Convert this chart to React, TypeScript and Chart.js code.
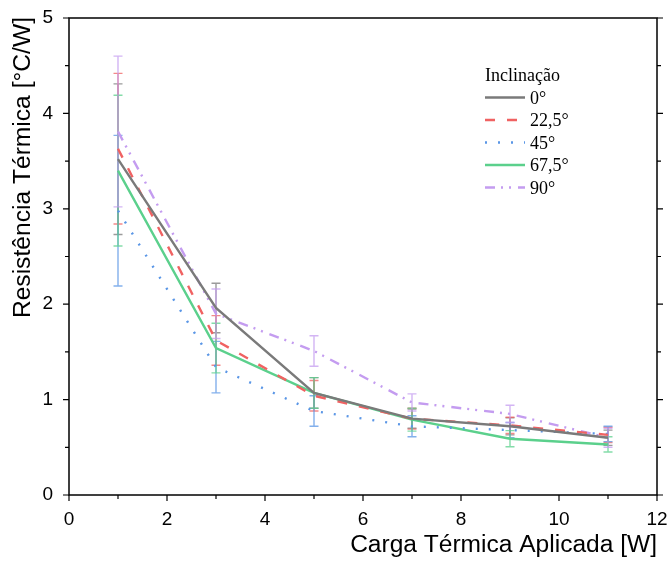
import React, { useEffect, useRef } from "react";
import { Chart, registerables } from "chart.js";

Chart.register(...registerables);

const loads = [1, 3, 5, 7, 9, 11];
const seriesLabels = ["0°", "22,5°", "45°", "67,5°", "90°"];
const res0 = [3.52, 1.96, 1.07, 0.8, 0.72, 0.6];
const res225 = [3.63, 1.62, 1.04, 0.8, 0.73, 0.63];
const res45 = [2.98, 1.34, 0.88, 0.72, 0.68, 0.64];
const res675 = [3.4, 1.54, 1.07, 0.79, 0.59, 0.53];
const res90 = [3.81, 1.9, 1.51, 0.97, 0.85, 0.6];
const err0 = [0.79, 0.26, 0.16, 0.1, 0.09, 0.08];
const err225 = [0.79, 0.26, 0.16, 0.11, 0.085, 0.08];
const err45 = [0.79, 0.27, 0.16, 0.11, 0.08, 0.08];
const err675 = [0.79, 0.26, 0.16, 0.12, 0.085, 0.08];
const err90 = [0.79, 0.26, 0.16, 0.09, 0.09, 0.1];
const xTickValues = [0, 2, 4, 6, 8, 10, 12];
const yTickValues = [0, 1, 2, 3, 4, 5];
const xTitle = "Carga Térmica Aplicada [W]";
const yTitle = "Resistência Térmica [°C/W]";
const legendTitle = "Inclinação";

const colors = ["#7a7a7a", "#f06262", "#5a96e6", "#5bd08c", "#c49cf0"];
const dashes = [[], [10, 12], [2, 11], [], [10, 6, 2, 6, 2, 7]];
const seriesValues = [res0, res225, res45, res675, res90];
const seriesErrors = [err0, err225, err45, err675, err90];

const sansFont = "'Liberation Sans', Arial, sans-serif";
const serifFont = "'Liberation Serif', 'Times New Roman', serif";

const framePlugin = {
  id: "frameAndExtras",
  beforeDatasetsDraw(chart: any) {
    const ctx = chart.ctx;
    const xs = chart.scales.x;
    const ys = chart.scales.y;
    ctx.save();
    chart.data.datasets.forEach((ds: any, i: number) => {
      const errs = seriesErrors[i];
      ctx.strokeStyle = colors[i];
      ctx.globalAlpha = 0.75;
      ctx.lineWidth = 1.4;
      ctx.setLineDash([]);
      ds.data.forEach((p: any, j: number) => {
        const px = xs.getPixelForValue(p.x);
        const top = ys.getPixelForValue(p.y + errs[j]);
        const bot = ys.getPixelForValue(p.y - errs[j]);
        ctx.beginPath();
        ctx.moveTo(px, top);
        ctx.lineTo(px, bot);
        ctx.moveTo(px - 4.5, top);
        ctx.lineTo(px + 4.5, top);
        ctx.moveTo(px - 4.5, bot);
        ctx.lineTo(px + 4.5, bot);
        ctx.stroke();
      });
    });
    ctx.restore();
  },
  afterDraw(chart: any) {
    const ctx = chart.ctx;
    const { left, right, top, bottom } = chart.chartArea;
    const xs = chart.scales.x;
    const ys = chart.scales.y;
    ctx.save();
    ctx.strokeStyle = "#000";
    ctx.lineWidth = 1.5;
    ctx.setLineDash([]);
    ctx.strokeRect(left, top, right - left, bottom - top);
    ctx.lineWidth = 1.2;
    for (let v = 0; v <= 12; v += 1) {
      const px = xs.getPixelForValue(v);
      const len = v % 2 === 0 ? 6 : 4;
      ctx.beginPath();
      ctx.moveTo(px, bottom);
      ctx.lineTo(px, bottom + len);
      ctx.stroke();
    }
    for (let v = 0; v <= 5; v += 0.5) {
      const py = ys.getPixelForValue(v);
      const len = Number.isInteger(v) ? 6 : 4;
      ctx.beginPath();
      ctx.moveTo(left, py);
      ctx.lineTo(left - len, py);
      ctx.moveTo(right, py);
      ctx.lineTo(right + len, py);
      ctx.stroke();
    }
    ctx.fillStyle = "#000";
    ctx.font = `23px ${sansFont}`;
    ctx.textBaseline = "middle";
    ctx.save();
    ctx.translate(right, 546);
    ctx.scale(1.067, 1);
    ctx.textAlign = "right";
    ctx.fillText(xTitle, 0, 0);
    ctx.restore();
    ctx.save();
    ctx.translate(24, 17);
    ctx.rotate(-Math.PI / 2);
    ctx.scale(1.07, 1);
    ctx.textAlign = "right";
    ctx.fillText(yTitle, 0, 0);
    ctx.restore();
    ctx.font = `18px ${serifFont}`;
    ctx.textAlign = "left";
    ctx.textBaseline = "alphabetic";
    ctx.fillText(legendTitle, 485, 81);
    const y0 = 97.5;
    const dy = 22.5;
    seriesLabels.forEach((lab, i) => {
      const y = y0 + i * dy;
      ctx.strokeStyle = colors[i];
      ctx.lineWidth = 2.5;
      ctx.setLineDash(dashes[i]);
      ctx.beginPath();
      ctx.moveTo(485, y);
      ctx.lineTo(525, y);
      ctx.stroke();
      ctx.setLineDash([]);
      ctx.fillStyle = "#000";
      ctx.fillText(lab, 530, y + 6);
    });
    ctx.restore();
  },
};

function zeroPad(s: any) {
  s.paddingLeft = 0;
  s.paddingRight = 0;
  s.paddingTop = 0;
  s.paddingBottom = 0;
}

export default function App() {
  const ref = useRef<HTMLCanvasElement | null>(null);
  useEffect(() => {
    if (!ref.current) return;
    const datasets = seriesLabels.map((lab, i) => ({
      label: lab,
      data: loads.map((x, j) => ({ x, y: seriesValues[i][j] })),
      borderColor: colors[i],
      backgroundColor: colors[i],
      borderWidth: 2.4,
      borderDash: dashes[i],
      pointRadius: 0,
      tension: 0,
      fill: false,
    }));
    const chart = new Chart(ref.current, {
      type: "line",
      data: { datasets },
      options: {
        animation: false,
        responsive: false,
        devicePixelRatio: 1,
        layout: { padding: { top: 18, right: 14, left: 0, bottom: 0 } },
        plugins: { legend: { display: false }, tooltip: { enabled: false } },
        scales: {
          x: {
            type: "linear",
            min: 0,
            max: 12,
            afterBuildTicks: (s: any) => {
              s.ticks = xTickValues.map((v) => ({ value: v }));
            },
            afterFit: (s: any) => {
              s.height = 66;
              zeroPad(s);
            },
            grid: { display: false, drawTicks: false },
            border: { display: false },
            ticks: { color: "#000", padding: 13, font: { family: sansFont, size: 19 }, maxRotation: 0 },
          },
          y: {
            type: "linear",
            min: 0,
            max: 5,
            afterBuildTicks: (s: any) => {
              s.ticks = yTickValues.map((v) => ({ value: v }));
            },
            afterFit: (s: any) => {
              s.width = 69;
              zeroPad(s);
            },
            grid: { display: false, drawTicks: false },
            border: { display: false },
            ticks: { color: "#000", padding: 16, font: { family: sansFont, size: 19 } },
          },
        },
      },
      plugins: [framePlugin],
    } as any);
    return () => chart.destroy();
  }, []);
  return (
    <div style={{ position: "absolute", left: 0, top: 0, width: 671, height: 561, background: "#fff" }}>
      <canvas ref={ref} width={671} height={561} />
    </div>
  );
}
